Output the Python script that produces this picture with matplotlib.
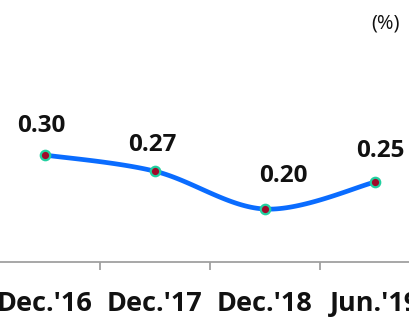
import numpy as np
import matplotlib
matplotlib.use("Agg")
import matplotlib.pyplot as plt

categories = ["Dec.'16", "Dec.'17", "Dec.'18", "Jun.'19"]
values = [0.30, 0.27, 0.20, 0.25]
value_labels = ["0.30", "0.27", "0.20", "0.25"]
unit_label = "(%)"

FONT = ["Open Sans", "DejaVu Sans"]


def smooth_curve(xs, ys, steps=40):
    """Cardinal (Catmull-Rom style) Bezier smoothing through the points."""
    xs = np.asarray(xs, float)
    ys = np.asarray(ys, float)
    px = np.concatenate([[xs[0]], xs, [xs[-1]]])
    py = np.concatenate([[ys[0]], ys, [ys[-1]]])
    out_x, out_y = [], []
    t = np.linspace(0, 1, steps)
    for i in range(1, len(px) - 2):
        p0 = np.array([px[i], py[i]])
        p3 = np.array([px[i + 1], py[i + 1]])
        p1 = p0 + (np.array([px[i + 1], py[i + 1]]) - np.array([px[i - 1], py[i - 1]])) / 6
        p2 = p3 - (np.array([px[i + 2], py[i + 2]]) - np.array([px[i], py[i]])) / 6
        b = ((1 - t) ** 3)[:, None] * p0 + (3 * (1 - t) ** 2 * t)[:, None] * p1 \
            + (3 * (1 - t) * t ** 2)[:, None] * p2 + (t ** 3)[:, None] * p3
        out_x.extend(b[:, 0])
        out_y.extend(b[:, 1])
    return np.array(out_x), np.array(out_y)


fig = plt.figure(figsize=(4.1, 3.2), dpi=100)
ax = fig.add_axes([-10 / 410, 58 / 320, 440 / 410, 262 / 320])

x = np.arange(len(categories))
sx, sy = smooth_curve(x, values)
ax.plot(sx, sy, color="#0A6CFF", lw=3.4, solid_capstyle="round", zorder=2)
ax.plot(x, values, ls="none", marker="o", ms=6.8, mfc="#A00A2A",
        mec="#22D0A0", mew=1.6, zorder=3)

offsets = [(-3, 21), (-2, 19), (13, 24), (4, 22)]
for xi, v, lab, off in zip(x, values, value_labels, offsets):
    ax.annotate(lab, (xi, v), xytext=off, textcoords="offset points",
                ha="center", va="center", fontsize=17.5, fontweight="bold",
                family=FONT, color="#111111")

ax.set_xlim(-0.5, 3.5)
ax.set_ylim(0.102, 0.587)

for s in ["top", "right", "left"]:
    ax.spines[s].set_visible(False)
ax.spines["bottom"].set_color("#A0A0A0")
ax.spines["bottom"].set_linewidth(1.3)

ax.set_yticks([])
ax.set_xticks(x)
ax.set_xticklabels(categories, fontsize=19.5, fontweight="bold", family=FONT,
                   color="#111111")
ax.tick_params(axis="x", which="major", length=0, pad=21)
ax.set_xticks(np.arange(len(categories) + 1) - 0.5, minor=True)
ax.tick_params(axis="x", which="minor", length=6, width=1.3, color="#A0A0A0")

fig.text(386 / 410, 1 - 24 / 320, unit_label, ha="center", va="center",
         fontsize=14.5, family=FONT, color="#111111")

fig.savefig("out.png", dpi=100)
